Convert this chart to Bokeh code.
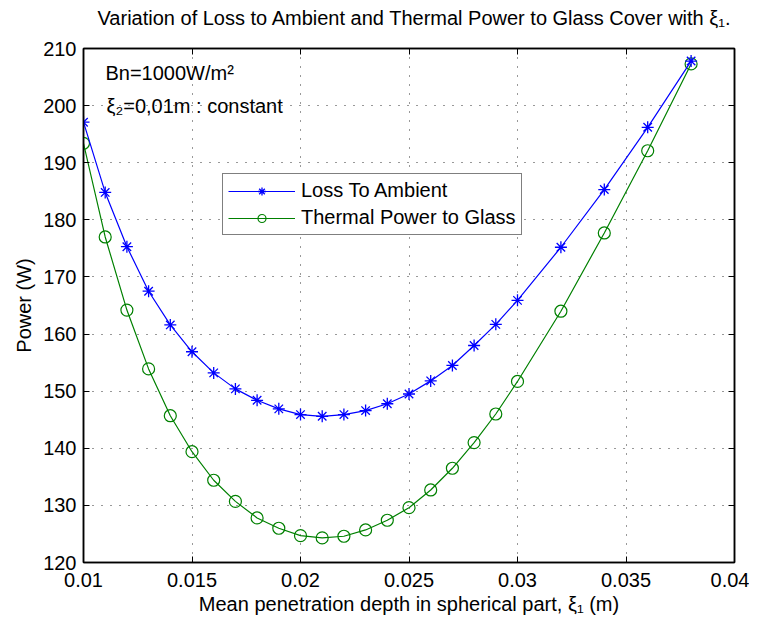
from bokeh.plotting import figure
from bokeh.models import (LinearAxis, Label, Legend, LegendItem, Range1d,
                          FixedTicker)
from bokeh.embed import file_html
from bokeh.resources import INLINE

# ---- data -------------------------------------------------------------
xi1 = [0.010, 0.011, 0.012, 0.013, 0.014, 0.015, 0.016, 0.017, 0.018, 0.019,
       0.020, 0.021, 0.022, 0.023, 0.024, 0.025, 0.026, 0.027, 0.028, 0.029,
       0.030, 0.032, 0.034, 0.036, 0.038]
loss_to_ambient = [197.1, 184.8, 175.3, 167.5, 161.6, 156.9, 153.2, 150.4,
                   148.4, 146.9, 145.9, 145.6, 145.9, 146.6, 147.8, 149.5,
                   151.8, 154.5, 158.0, 161.7, 165.9, 175.2, 185.3, 196.2,
                   207.8]
thermal_to_glass = [193.4, 177.0, 164.2, 153.9, 145.7, 139.4, 134.4, 130.7,
                    127.8, 126.0, 124.7, 124.3, 124.6, 125.7, 127.4, 129.6,
                    132.7, 136.5, 141.0, 146.0, 151.7, 164.0, 177.7, 192.1,
                    207.3]
x_ticks = [0.01, 0.015, 0.02, 0.025, 0.03, 0.035, 0.04]
x_tick_labels = ["0.01", "0.015", "0.02", "0.025", "0.03", "0.035", "0.04"]
y_ticks = [120, 130, 140, 150, 160, 170, 180, 190, 200, 210]
y_tick_labels = [str(v) for v in y_ticks]
title_text = "Variation of Loss to Ambient and Thermal Power to Glass Cover with ξ₁."

FONT = "Liberation Sans"
FS = "20px"

p = figure(width=749, height=618,
           x_range=Range1d(0.01, 0.04), y_range=Range1d(120, 210),
           output_backend="svg", toolbar_location=None,
           min_border_left=83, min_border_top=48,
           min_border_right=15, min_border_bottom=56)

p.title.text = title_text
p.title.text_font = FONT
p.title.text_font_size = FS
p.title.text_font_style = "normal"
p.title.text_color = "black"
p.title.align = "left"
p.title.vertical_align = "top"
p.title.standoff = 9
p.title.offset = 14

p.background_fill_color = "white"
p.border_fill_color = "white"
p.outline_line_color = "black"
p.outline_line_width = 1.5

xt = FixedTicker(ticks=x_ticks)
yt = FixedTicker(ticks=y_ticks)
p.xaxis.ticker = xt
p.yaxis.ticker = yt
p.xaxis.major_label_overrides = dict(zip(x_ticks, x_tick_labels))
p.yaxis.major_label_overrides = dict(zip(y_ticks, y_tick_labels))

for ax in (p.xaxis[0], p.yaxis[0]):
    ax.major_tick_in = 6
    ax.major_tick_out = 0
    ax.minor_tick_line_color = None
    ax.axis_line_color = "black"
    ax.axis_line_width = 1.5
    ax.major_tick_line_color = "black"
    ax.major_label_text_font = FONT
    ax.major_label_text_font_size = FS
    ax.major_label_text_color = "black"
    ax.axis_label_text_font = FONT
    ax.axis_label_text_font_size = FS
    ax.axis_label_text_font_style = "normal"
    ax.axis_label_text_color = "black"

p.xaxis.axis_label = "Mean penetration depth in spherical part, ξ₁ (m)"
p.yaxis.axis_label = "Power (W)"
p.xaxis.major_label_standoff = 10
p.xaxis.axis_label_standoff = 3
p.yaxis.major_label_standoff = 7
p.yaxis.axis_label_standoff = 5

# box ticks on top and right (no labels)
for side, ticker in (("above", xt), ("right", yt)):
    ax = LinearAxis(ticker=ticker, major_tick_in=6, major_tick_out=0,
                    minor_tick_line_color=None, axis_line_color="black",
                    axis_line_width=1.5, major_label_text_font_size="1px",
                    major_label_text_color=None, major_label_standoff=0)
    p.add_layout(ax, side)

# invisible spacer between the title and the frame
spacer = LinearAxis(ticker=xt, major_tick_in=0, major_tick_out=13,
                    major_tick_line_color=None, minor_tick_line_color=None,
                    axis_line_color=None, major_label_text_font_size="1px",
                    major_label_text_color=None, major_label_standoff=0)
p.add_layout(spacer, "above")

p.grid.grid_line_color = "black"
p.grid.grid_line_alpha = 0.8
p.grid.grid_line_dash = "1 8"
p.grid.grid_line_width = 1

green = "#008000"
blue = "#0000ff"
l2 = p.line(xi1, thermal_to_glass, line_color=green, line_width=1.2)
s2 = p.scatter(xi1, thermal_to_glass, marker="circle", size=12,
               line_color=green, fill_color=None, line_width=1.2)
l1 = p.line(xi1, loss_to_ambient, line_color=blue, line_width=1.2)
s1 = p.scatter(xi1, loss_to_ambient, marker="asterisk", size=12,
               line_color=blue, line_width=1.3)

legend = Legend(items=[LegendItem(label="Loss To Ambient", renderers=[l1, s1]),
                       LegendItem(label="Thermal Power to Glass", renderers=[l2, s2])],
                location=(139, 327))
legend.label_text_font = FONT
legend.label_text_font_size = FS
legend.label_text_color = "black"
legend.glyph_width = 67
legend.glyph_height = 20
legend.label_height = 20
legend.label_standoff = 6
legend.padding = 5
legend.spacing = 4
legend.margin = 0
legend.border_line_color = "black"
legend.border_line_width = 1.5
legend.background_fill_color = "white"
legend.background_fill_alpha = 1
p.add_layout(legend, "center")

p.add_layout(Label(x=0.01101, y=205.7, text="Bn=1000W/m²", text_font=FONT,
                   text_font_size=FS, text_color="black",
                   text_baseline="alphabetic"))
p.add_layout(Label(x=0.01106, y=200.0, text="ξ₂=0,01m : constant", text_font=FONT,
                   text_font_size=FS, text_color="black",
                   text_baseline="alphabetic"))

open("out.html", "w").write(file_html(p, INLINE))
